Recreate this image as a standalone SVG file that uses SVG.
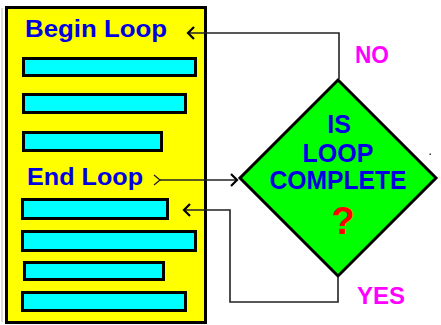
<svg xmlns="http://www.w3.org/2000/svg" width="441" height="325" viewBox="0 0 441 325">
  <style>
    .lbl { font-family: "Liberation Sans", Arial, sans-serif; font-weight: bold; }
    .step { fill: #00ffff; stroke: #000; stroke-width: 3; }
    .wire { fill: none; stroke: #222; stroke-width: 1.6; }
  </style>
  <defs>
    <marker id="head" markerUnits="userSpaceOnUse" markerWidth="10" markerHeight="14" refX="7" refY="6" orient="auto" overflow="visible">
      <path d="M1,0 L7,6 L1,12" fill="none" stroke="#000" stroke-width="2.2"/>
    </marker>
    <marker id="tail" markerUnits="userSpaceOnUse" markerWidth="10" markerHeight="12" refX="6" refY="5" orient="auto" overflow="visible">
      <path d="M0,0 L6,5 L0,10" fill="none" stroke="#222" stroke-width="1.3"/>
    </marker>
  </defs>

  <rect width="441" height="325" fill="#fff"/>

  <!-- loop body panel -->
  <g id="loop-body">
    <line x1="2" y1="8" x2="2" y2="322" stroke="#bbb" stroke-width="1"/>
    <rect x="6.5" y="7.5" width="199" height="315" fill="#ffff00" stroke="#000" stroke-width="3"/>
    <text class="lbl" x="25" y="37" font-size="23" fill="#0000e0" textLength="142" lengthAdjust="spacingAndGlyphs">Begin Loop</text>
    <text class="lbl" x="27" y="185" font-size="23" fill="#0000e0" textLength="116" lengthAdjust="spacingAndGlyphs">End Loop</text>
  </g>

  <!-- statements inside the loop -->
  <g id="step-1"><rect class="step" x="23.5" y="58.5" width="172" height="17"/></g>
  <g id="step-2"><rect class="step" x="23.5" y="94.5" width="162" height="18"/></g>
  <g id="step-3"><rect class="step" x="23.5" y="132.5" width="138" height="18"/></g>
  <g id="step-4"><rect class="step" x="22.5" y="199.5" width="145" height="19"/></g>
  <g id="step-5"><rect class="step" x="22.5" y="231.5" width="173" height="19"/></g>
  <g id="step-6"><rect class="step" x="24.5" y="262.5" width="139" height="17"/></g>
  <g id="step-7"><rect class="step" x="22.5" y="292.5" width="163" height="18"/></g>

  <!-- decision -->
  <g id="decision">
    <polygon points="338,80 436,178 338,276 240,178" fill="#00ff00" stroke="#000" stroke-width="3"/>
    <g class="lbl" fill="#0000e0" font-size="25" text-anchor="middle">
      <text x="339" y="133">IS</text>
      <text x="338" y="162">LOOP</text>
      <text x="338" y="189" textLength="137" lengthAdjust="spacingAndGlyphs">COMPLETE</text>
    </g>
    <text class="lbl" x="343" y="234" font-size="38" fill="#ff0000" text-anchor="middle">?</text>
  </g>

  <!-- branch labels -->
  <g id="label-no">
    <text class="lbl" x="355" y="63" font-size="24" fill="#ff00ff" textLength="34" lengthAdjust="spacingAndGlyphs">NO</text>
  </g>
  <g id="label-yes">
    <text class="lbl" x="357" y="304" font-size="24" fill="#ff00ff" textLength="48" lengthAdjust="spacingAndGlyphs">YES</text>
  </g>

  <!-- connectors -->
  <g id="connectors">
    <path class="wire" d="M339,79 V33 H188" marker-end="url(#head)"/>
    <path class="wire" d="M160,180 H237" marker-start="url(#tail)" marker-end="url(#head)"/>
    <path class="wire" d="M338,277 V302 H230 V210 H184" marker-end="url(#head)"/>
  </g>

  <rect x="429.5" y="153.5" width="1.5" height="1.5" fill="#333"/>
</svg>
